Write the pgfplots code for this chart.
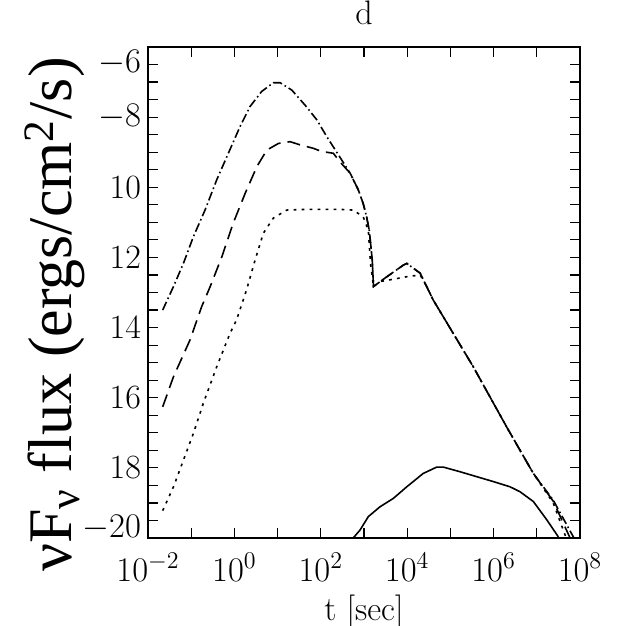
\documentclass[border=0pt]{standalone}
\usepackage{fontspec}
\usepackage{pgfplots}
\pgfplotsset{compat=1.18}
\newfontfamily\timesf{Liberation Serif}

% curves, x = log10(t/sec)
\pgfplotstableread{
lt y
-1.66 -13.50
-1.41 -12.83
-1.18 -12.17
-0.95 -11.41
-0.68 -10.65
-0.41 -9.79
-0.14 -9.03
0.13 -8.27
0.36 -7.70
0.63 -7.27
0.90 -7.02
1.06 -7.02
1.33 -7.23
1.63 -7.65
1.91 -8.08
2.14 -8.56
2.41 -9.08
2.68 -9.60
2.87 -10.08
2.98 -10.46
3.06 -10.84
3.12 -11.22
3.16 -11.69
3.19 -12.07
3.22 -12.83
3.53 -12.55
3.91 -12.22
3.99 -12.17
4.30 -12.45
4.45 -12.83
4.60 -13.21
5.53 -15.12
6.30 -16.83
6.92 -18.16
7.38 -18.92
7.86 -20.00
}\topcurve

\pgfplotstableread{
lt y
-1.66 -16.26
-1.41 -15.40
-1.03 -14.36
-0.76 -13.41
-0.56 -12.83
-0.29 -11.98
-0.03 -11.03
0.25 -10.17
0.52 -9.41
0.75 -8.94
1.02 -8.75
1.29 -8.70
1.52 -8.79
1.83 -8.89
2.02 -8.98
2.29 -9.03
2.44 -9.27
2.68 -9.60
2.87 -10.08
2.98 -10.46
3.06 -10.84
3.12 -11.22
3.16 -11.69
3.19 -12.07
3.22 -12.83
3.53 -12.55
3.91 -12.22
3.99 -12.17
4.30 -12.45
4.45 -12.83
4.60 -13.21
5.53 -15.12
6.30 -16.83
6.92 -18.16
7.38 -18.95
7.77 -20.00
}\midcurve

\pgfplotstableread{
lt y
-1.66 -19.22
-1.41 -18.54
-1.18 -17.78
-0.95 -17.02
-0.72 -16.16
-0.41 -15.12
-0.10 -14.16
0.05 -13.78
0.28 -12.93
0.48 -12.07
0.67 -11.31
0.90 -10.88
1.21 -10.65
1.67 -10.63
2.44 -10.63
2.75 -10.65
2.98 -10.84
3.10 -11.22
3.15 -12.17
3.22 -12.83
3.37 -12.69
3.99 -12.55
4.30 -12.50
4.45 -12.83
4.60 -13.21
5.53 -15.12
6.30 -16.83
6.92 -18.16
7.38 -19.00
7.68 -20.00
}\lowcurve

\pgfplotstableread{
lt y
2.75 -20.00
2.91 -19.77
3.10 -19.39
3.37 -19.11
3.68 -18.87
3.99 -18.54
4.37 -18.16
4.68 -17.98
4.84 -17.98
5.22 -18.11
5.99 -18.39
6.38 -18.54
6.61 -18.68
6.92 -18.96
7.23 -19.48
7.50 -19.97
}\solidcurve

\begin{document}
\begin{tikzpicture}
\begin{axis}[
    scale only axis,
    width=216pt, height=245.5pt,
    xmin=-2, xmax=8, ymin=-20, ymax=-6,
    xtick={-2,-1,...,8},
    xticklabels={$10^{-2}$,,$10^{0}$,,$10^{2}$,,$10^{4}$,,$10^{6}$,,$10^{8}$},
    ytick={-20,-18,...,-6},
    yticklabels={\raisebox{5pt}[\height][\depth]{$-20$},18,16,14,12,10,$-8$,\raisebox{-8pt}[\height][\depth]{$-6$}},
    minor y tick num=3,
    tick align=inside,
    major tick length=5pt, minor tick length=5pt,
    tick style={black, line width=0.6pt},
    axis line style={line width=0.8pt},
    ticklabel style={font=\fontsize{17}{17}\selectfont},
    xticklabel style={yshift=-4pt},
    title={d},
    title style={font=\fontsize{17}{17}\selectfont, at={(axis description cs:0.5,1)}, anchor=base, yshift=5pt, inner sep=0pt},
    xlabel={t [sec]},
    xlabel style={font=\fontsize{17}{17}\selectfont, at={(axis description cs:0.5,0)}, anchor=center, yshift=-37pt},
    ylabel={\timesf νF\textsubscript{ν} flux (ergs/cm\textsuperscript{2}/s)},
    ylabel style={font=\fontsize{31}{31}\selectfont, at={(axis description cs:-0.215,0.455)}, anchor=center},
    clip=true,
]
\addplot[black, line width=0.8pt, dash pattern=on 4.5pt off 1.6pt on 0.8pt off 1.6pt] table[x=lt,y=y] {\topcurve};
\addplot[black, line width=0.8pt, dash pattern=on 6.5pt off 3.5pt] table[x=lt,y=y] {\midcurve};
\addplot[black, line width=0.8pt, dash pattern=on 1.4pt off 2.6pt] table[x=lt,y=y] {\lowcurve};
\addplot[black, line width=0.8pt] table[x=lt,y=y] {\solidcurve};
\coordinate (sw) at (rel axis cs:0,0);
\coordinate (ne) at (rel axis cs:1,1);
\end{axis}
\pgfresetboundingbox
\path ([shift={(-74pt,-44pt)}]sw) rectangle ([shift={(20pt,23.5pt)}]ne);
\end{tikzpicture}
\end{document}
